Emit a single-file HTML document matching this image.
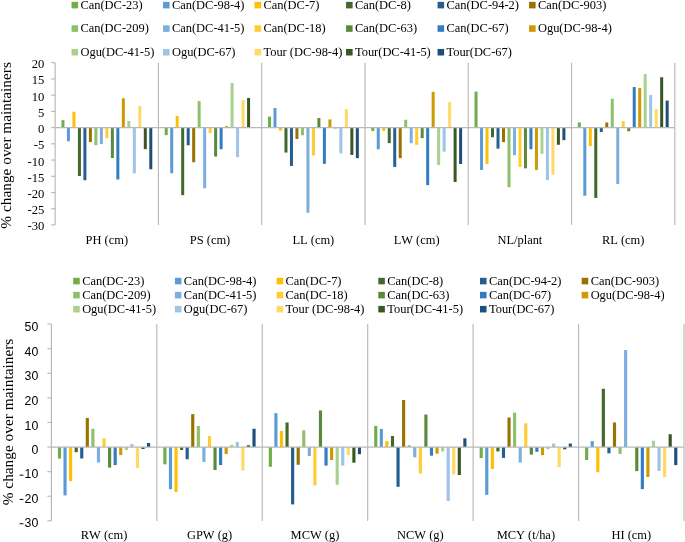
<!DOCTYPE html>
<html><head><meta charset="utf-8"><title>chart</title>
<style>
html,body{margin:0;padding:0;background:#fff;}
svg{display:block;will-change:transform;opacity:0.999}
text{fill:#000}
.s{font-family:"Liberation Serif",serif;font-size:12.45px}
.c{font-family:"Liberation Serif",serif;font-size:12.45px;font-kerning:none}
</style></head><body>
<svg width="685" height="542" viewBox="0 0 685 542">
<rect width="685" height="542" fill="#fff"/>
<rect x="71.55" y="1.85" width="6.55" height="6.55" fill="#70AD47"/>
<text x="80.45" y="8.6" class="s">Can(DC-23)</text>
<rect x="163.05" y="1.85" width="6.55" height="6.55" fill="#5B9BD5"/>
<text x="171.95" y="8.6" class="s">Can(DC-98-4)</text>
<rect x="254.55" y="1.85" width="6.55" height="6.55" fill="#FFC000"/>
<text x="263.45" y="8.6" class="s">Can(DC-7)</text>
<rect x="346.05" y="1.85" width="6.55" height="6.55" fill="#43682B"/>
<text x="354.95" y="8.6" class="s">Can(DC-8)</text>
<rect x="437.55" y="1.85" width="6.55" height="6.55" fill="#255E91"/>
<text x="446.45" y="8.6" class="s">Can(DC-94-2)</text>
<rect x="529.05" y="1.85" width="6.55" height="6.55" fill="#997300"/>
<text x="537.95" y="8.6" class="s">Can(DC-903)</text>
<rect x="71.55" y="25.3" width="6.55" height="6.55" fill="#8CC168"/>
<text x="80.45" y="32.05" class="s">Can(DC-209)</text>
<rect x="163.05" y="25.3" width="6.55" height="6.55" fill="#7CAFDD"/>
<text x="171.95" y="32.05" class="s">Can(DC-41-5)</text>
<rect x="254.55" y="25.3" width="6.55" height="6.55" fill="#FFCD33"/>
<text x="263.45" y="32.05" class="s">Can(DC-18)</text>
<rect x="346.05" y="25.3" width="6.55" height="6.55" fill="#5A8A39"/>
<text x="354.95" y="32.05" class="s">Can(DC-63)</text>
<rect x="437.55" y="25.3" width="6.55" height="6.55" fill="#327DC2"/>
<text x="446.45" y="32.05" class="s">Can(DC-67)</text>
<rect x="529.05" y="25.3" width="6.55" height="6.55" fill="#CC9A00"/>
<text x="537.95" y="32.05" class="s">Ogu(DC-98-4)</text>
<rect x="71.55" y="48.95" width="6.55" height="6.55" fill="#A9D18E"/>
<text x="80.45" y="55.7" class="s">Ogu(DC-41-5)</text>
<rect x="163.05" y="48.95" width="6.55" height="6.55" fill="#9DC3E6"/>
<text x="171.95" y="55.7" class="s">Ogu(DC-67)</text>
<rect x="254.55" y="48.95" width="6.55" height="6.55" fill="#FFD966"/>
<text x="263.45" y="55.7" class="s">Tour (DC-98-4)</text>
<rect x="346.05" y="48.95" width="6.55" height="6.55" fill="#385723"/>
<text x="354.95" y="55.7" class="s">Tour(DC-41-5)</text>
<rect x="437.55" y="48.95" width="6.55" height="6.55" fill="#1F4E79"/>
<text x="446.45" y="55.7" class="s">Tour(DC-67)</text>
<line x1="51.15" y1="62.7" x2="55.15" y2="62.7" stroke="#B8B8B8" stroke-width="1.15"/>
<text x="44.3" y="68.2" text-anchor="end" style="font-family:'Liberation Serif',serif;font-size:12.65px">20</text>
<line x1="51.15" y1="78.92" x2="55.15" y2="78.92" stroke="#B8B8B8" stroke-width="1.15"/>
<text x="44.3" y="84.42" text-anchor="end" style="font-family:'Liberation Serif',serif;font-size:12.65px">15</text>
<line x1="51.15" y1="95.15" x2="55.15" y2="95.15" stroke="#B8B8B8" stroke-width="1.15"/>
<text x="44.3" y="100.65" text-anchor="end" style="font-family:'Liberation Serif',serif;font-size:12.65px">10</text>
<line x1="51.15" y1="111.38" x2="55.15" y2="111.38" stroke="#B8B8B8" stroke-width="1.15"/>
<text x="44.3" y="116.88" text-anchor="end" style="font-family:'Liberation Serif',serif;font-size:12.65px">5</text>
<line x1="51.15" y1="127.6" x2="55.15" y2="127.6" stroke="#B8B8B8" stroke-width="1.15"/>
<text x="44.3" y="133.1" text-anchor="end" style="font-family:'Liberation Serif',serif;font-size:12.65px">0</text>
<line x1="51.15" y1="143.82" x2="55.15" y2="143.82" stroke="#B8B8B8" stroke-width="1.15"/>
<text x="44.3" y="149.32" text-anchor="end" style="font-family:'Liberation Serif',serif;font-size:12.65px">-5</text>
<line x1="51.15" y1="160.05" x2="55.15" y2="160.05" stroke="#B8B8B8" stroke-width="1.15"/>
<text x="44.3" y="165.55" text-anchor="end" style="font-family:'Liberation Serif',serif;font-size:12.65px">-10</text>
<line x1="51.15" y1="176.28" x2="55.15" y2="176.28" stroke="#B8B8B8" stroke-width="1.15"/>
<text x="44.3" y="181.78" text-anchor="end" style="font-family:'Liberation Serif',serif;font-size:12.65px">-15</text>
<line x1="51.15" y1="192.5" x2="55.15" y2="192.5" stroke="#B8B8B8" stroke-width="1.15"/>
<text x="44.3" y="198" text-anchor="end" style="font-family:'Liberation Serif',serif;font-size:12.65px">-20</text>
<line x1="51.15" y1="208.72" x2="55.15" y2="208.72" stroke="#B8B8B8" stroke-width="1.15"/>
<text x="44.3" y="214.22" text-anchor="end" style="font-family:'Liberation Serif',serif;font-size:12.65px">-25</text>
<line x1="51.15" y1="224.95" x2="55.15" y2="224.95" stroke="#B8B8B8" stroke-width="1.15"/>
<text x="44.3" y="230.45" text-anchor="end" style="font-family:'Liberation Serif',serif;font-size:12.65px">-30</text>
<rect x="61.45" y="120.15" width="3" height="7.45" fill="#70AD47"/>
<rect x="66.94" y="127.6" width="3" height="13.65" fill="#5B9BD5"/>
<rect x="72.43" y="111.75" width="3" height="15.85" fill="#FFC000"/>
<rect x="77.92" y="127.6" width="3" height="48.35" fill="#43682B"/>
<rect x="83.41" y="127.6" width="3" height="52.65" fill="#255E91"/>
<rect x="88.9" y="127.6" width="3" height="14.45" fill="#997300"/>
<rect x="94.39" y="127.6" width="3" height="17.55" fill="#8CC168"/>
<rect x="99.88" y="127.6" width="3" height="16.45" fill="#7CAFDD"/>
<rect x="105.37" y="127.6" width="3" height="10.65" fill="#FFCD33"/>
<rect x="110.86" y="127.6" width="3" height="30.45" fill="#5A8A39"/>
<rect x="116.35" y="127.6" width="3" height="51.85" fill="#327DC2"/>
<rect x="121.84" y="98.25" width="3" height="29.35" fill="#CC9A00"/>
<rect x="127.33" y="120.95" width="3" height="6.65" fill="#A9D18E"/>
<rect x="132.82" y="127.6" width="3" height="45.75" fill="#9DC3E6"/>
<rect x="138.31" y="105.95" width="3" height="21.65" fill="#FFD966"/>
<rect x="143.8" y="127.6" width="3" height="21.55" fill="#385723"/>
<rect x="149.29" y="127.6" width="3" height="41.65" fill="#1F4E79"/>
<text x="106.79" y="243.8" text-anchor="middle" class="c">PH (cm)</text>
<rect x="164.72" y="127.6" width="3" height="7.55" fill="#70AD47"/>
<rect x="170.22" y="127.6" width="3" height="45.65" fill="#5B9BD5"/>
<rect x="175.7" y="115.95" width="3" height="11.65" fill="#FFC000"/>
<rect x="181.19" y="127.6" width="3" height="67.55" fill="#43682B"/>
<rect x="186.69" y="127.6" width="3" height="17.65" fill="#255E91"/>
<rect x="192.18" y="127.6" width="3" height="34.65" fill="#997300"/>
<rect x="197.66" y="101.15" width="3" height="26.45" fill="#8CC168"/>
<rect x="203.16" y="127.6" width="3" height="60.65" fill="#7CAFDD"/>
<rect x="208.64" y="127.6" width="3" height="5.55" fill="#FFCD33"/>
<rect x="214.13" y="127.6" width="3" height="28.95" fill="#5A8A39"/>
<rect x="219.62" y="127.6" width="3" height="21.65" fill="#327DC2"/>
<rect x="225.12" y="126.05" width="3" height="1.55" fill="#CC9A00"/>
<rect x="230.6" y="82.95" width="3" height="44.65" fill="#A9D18E"/>
<rect x="236.09" y="127.6" width="3" height="29.55" fill="#9DC3E6"/>
<rect x="241.58" y="100.15" width="3" height="27.45" fill="#FFD966"/>
<rect x="247.07" y="97.95" width="3" height="29.65" fill="#385723"/>
<text x="210.06" y="243.8" text-anchor="middle" class="c">PS (cm)</text>
<rect x="268" y="116.65" width="3" height="10.95" fill="#70AD47"/>
<rect x="273.49" y="108.05" width="3" height="19.55" fill="#5B9BD5"/>
<rect x="278.98" y="127.6" width="3" height="2.95" fill="#FFC000"/>
<rect x="284.47" y="127.6" width="3" height="24.95" fill="#43682B"/>
<rect x="289.96" y="127.6" width="3" height="38.35" fill="#255E91"/>
<rect x="295.45" y="127.6" width="3" height="11.35" fill="#997300"/>
<rect x="300.94" y="127.6" width="3" height="7.65" fill="#8CC168"/>
<rect x="306.43" y="127.6" width="3" height="85.15" fill="#7CAFDD"/>
<rect x="311.92" y="127.6" width="3" height="27.95" fill="#FFCD33"/>
<rect x="317.41" y="118.05" width="3" height="9.55" fill="#5A8A39"/>
<rect x="322.9" y="127.6" width="3" height="36.25" fill="#327DC2"/>
<rect x="328.39" y="119.45" width="3" height="8.15" fill="#CC9A00"/>
<rect x="333.88" y="127.6" width="3" height="1.35" fill="#A9D18E"/>
<rect x="339.37" y="127.6" width="3" height="25.75" fill="#9DC3E6"/>
<rect x="344.86" y="109.05" width="3" height="18.55" fill="#FFD966"/>
<rect x="350.35" y="127.6" width="3" height="27.35" fill="#385723"/>
<rect x="355.84" y="127.6" width="3" height="30.55" fill="#1F4E79"/>
<text x="313.34" y="243.8" text-anchor="middle" class="c">LL (cm)</text>
<rect x="371.27" y="127.6" width="3" height="3.35" fill="#70AD47"/>
<rect x="376.76" y="127.6" width="3" height="21.65" fill="#5B9BD5"/>
<rect x="382.25" y="127.6" width="3" height="3.35" fill="#FFC000"/>
<rect x="387.75" y="127.6" width="3" height="15.55" fill="#43682B"/>
<rect x="393.23" y="127.6" width="3" height="39.35" fill="#255E91"/>
<rect x="398.72" y="127.6" width="3" height="30.55" fill="#997300"/>
<rect x="404.21" y="119.75" width="3" height="7.85" fill="#8CC168"/>
<rect x="409.7" y="127.6" width="3" height="15.55" fill="#7CAFDD"/>
<rect x="415.19" y="127.6" width="3" height="17.35" fill="#FFCD33"/>
<rect x="420.69" y="127.6" width="3" height="10.55" fill="#5A8A39"/>
<rect x="426.17" y="127.6" width="3" height="57.55" fill="#327DC2"/>
<rect x="431.66" y="91.85" width="3" height="35.75" fill="#CC9A00"/>
<rect x="437.15" y="127.6" width="3" height="37.45" fill="#A9D18E"/>
<rect x="442.64" y="127.6" width="3" height="24.05" fill="#9DC3E6"/>
<rect x="448.13" y="102.15" width="3" height="25.45" fill="#FFD966"/>
<rect x="453.62" y="127.6" width="3" height="54.35" fill="#385723"/>
<rect x="459.12" y="127.6" width="3" height="36.45" fill="#1F4E79"/>
<text x="416.61" y="243.8" text-anchor="middle" class="c">LW (cm)</text>
<rect x="474.55" y="91.65" width="3" height="35.95" fill="#70AD47"/>
<rect x="480.04" y="127.6" width="3" height="42.35" fill="#5B9BD5"/>
<rect x="485.53" y="127.6" width="3" height="36.25" fill="#FFC000"/>
<rect x="491.02" y="127.6" width="3" height="9.65" fill="#43682B"/>
<rect x="496.51" y="127.6" width="3" height="21.05" fill="#255E91"/>
<rect x="502" y="127.6" width="3" height="14.55" fill="#997300"/>
<rect x="507.49" y="127.6" width="3" height="59.65" fill="#8CC168"/>
<rect x="512.98" y="127.6" width="3" height="27.55" fill="#7CAFDD"/>
<rect x="518.47" y="127.6" width="3" height="39.35" fill="#FFCD33"/>
<rect x="523.96" y="127.6" width="3" height="40.75" fill="#5A8A39"/>
<rect x="529.45" y="127.6" width="3" height="21.65" fill="#327DC2"/>
<rect x="534.94" y="127.6" width="3" height="42.35" fill="#CC9A00"/>
<rect x="540.43" y="127.6" width="3" height="26.15" fill="#A9D18E"/>
<rect x="545.92" y="127.6" width="3" height="52.55" fill="#9DC3E6"/>
<rect x="551.41" y="127.6" width="3" height="47.05" fill="#FFD966"/>
<rect x="556.9" y="127.6" width="3" height="17.15" fill="#385723"/>
<rect x="562.39" y="127.6" width="3" height="12.55" fill="#1F4E79"/>
<text x="519.89" y="243.8" text-anchor="middle" class="c">NL/plant</text>
<rect x="577.82" y="122.5" width="3" height="5.1" fill="#70AD47"/>
<rect x="583.31" y="127.6" width="3" height="68.15" fill="#5B9BD5"/>
<rect x="588.8" y="127.6" width="3" height="18.45" fill="#FFC000"/>
<rect x="594.29" y="127.6" width="3" height="70.35" fill="#43682B"/>
<rect x="599.78" y="127.6" width="3" height="4.45" fill="#255E91"/>
<rect x="605.27" y="122.5" width="3" height="5.1" fill="#997300"/>
<rect x="610.76" y="98.75" width="3" height="28.85" fill="#8CC168"/>
<rect x="616.25" y="127.6" width="3" height="56.35" fill="#7CAFDD"/>
<rect x="621.74" y="121.25" width="3" height="6.35" fill="#FFCD33"/>
<rect x="627.23" y="127.6" width="3" height="3.65" fill="#5A8A39"/>
<rect x="632.72" y="87.05" width="3" height="40.55" fill="#327DC2"/>
<rect x="638.21" y="88.05" width="3" height="39.55" fill="#CC9A00"/>
<rect x="643.7" y="74.05" width="3" height="53.55" fill="#A9D18E"/>
<rect x="649.19" y="95.05" width="3" height="32.55" fill="#9DC3E6"/>
<rect x="654.68" y="109.05" width="3" height="18.55" fill="#FFD966"/>
<rect x="660.17" y="77.25" width="3" height="50.35" fill="#385723"/>
<rect x="665.66" y="100.55" width="3" height="27.05" fill="#1F4E79"/>
<text x="623.16" y="243.8" text-anchor="middle" class="c">RL (cm)</text>
<line x1="55.15" y1="62.8" x2="55.15" y2="224.9" stroke="#B8B8B8" stroke-width="1.15"/>
<line x1="158.42" y1="62.8" x2="158.42" y2="224.9" stroke="#B8B8B8" stroke-width="1.15"/>
<line x1="261.7" y1="62.8" x2="261.7" y2="224.9" stroke="#B8B8B8" stroke-width="1.15"/>
<line x1="364.97" y1="62.8" x2="364.97" y2="224.9" stroke="#B8B8B8" stroke-width="1.15"/>
<line x1="468.25" y1="62.8" x2="468.25" y2="224.9" stroke="#B8B8B8" stroke-width="1.15"/>
<line x1="571.52" y1="62.8" x2="571.52" y2="224.9" stroke="#B8B8B8" stroke-width="1.15"/>
<line x1="674.8" y1="62.8" x2="674.8" y2="224.9" stroke="#B8B8B8" stroke-width="1.15"/>
<line x1="55.15" y1="127.6" x2="674.8" y2="127.6" stroke="#B8B8B8" stroke-width="1.15"/>
<text transform="translate(10.6,145.35) rotate(-90)" text-anchor="middle" style="font-family:'Liberation Serif',serif;font-size:15.35px">% change over maintainers</text>
<rect x="73.2" y="277.8" width="6.55" height="6.55" fill="#70AD47"/>
<text x="82.15" y="284.55" class="s">Can(DC-23)</text>
<rect x="174.9" y="277.8" width="6.55" height="6.55" fill="#5B9BD5"/>
<text x="183.85" y="284.55" class="s">Can(DC-98-4)</text>
<rect x="276.6" y="277.8" width="6.55" height="6.55" fill="#FFC000"/>
<text x="285.55" y="284.55" class="s">Can(DC-7)</text>
<rect x="378.3" y="277.8" width="6.55" height="6.55" fill="#43682B"/>
<text x="387.25" y="284.55" class="s">Can(DC-8)</text>
<rect x="480" y="277.8" width="6.55" height="6.55" fill="#255E91"/>
<text x="488.95" y="284.55" class="s">Can(DC-94-2)</text>
<rect x="581.7" y="277.8" width="6.55" height="6.55" fill="#997300"/>
<text x="590.65" y="284.55" class="s">Can(DC-903)</text>
<rect x="73.2" y="291.85" width="6.55" height="6.55" fill="#8CC168"/>
<text x="82.15" y="298.6" class="s">Can(DC-209)</text>
<rect x="174.9" y="291.85" width="6.55" height="6.55" fill="#7CAFDD"/>
<text x="183.85" y="298.6" class="s">Can(DC-41-5)</text>
<rect x="276.6" y="291.85" width="6.55" height="6.55" fill="#FFCD33"/>
<text x="285.55" y="298.6" class="s">Can(DC-18)</text>
<rect x="378.3" y="291.85" width="6.55" height="6.55" fill="#5A8A39"/>
<text x="387.25" y="298.6" class="s">Can(DC-63)</text>
<rect x="480" y="291.85" width="6.55" height="6.55" fill="#327DC2"/>
<text x="488.95" y="298.6" class="s">Can(DC-67)</text>
<rect x="581.7" y="291.85" width="6.55" height="6.55" fill="#CC9A00"/>
<text x="590.65" y="298.6" class="s">Ogu(DC-98-4)</text>
<rect x="73.2" y="305.9" width="6.55" height="6.55" fill="#A9D18E"/>
<text x="82.15" y="312.65" class="s">Ogu(DC-41-5)</text>
<rect x="174.9" y="305.9" width="6.55" height="6.55" fill="#9DC3E6"/>
<text x="183.85" y="312.65" class="s">Ogu(DC-67)</text>
<rect x="276.6" y="305.9" width="6.55" height="6.55" fill="#FFD966"/>
<text x="285.55" y="312.65" class="s">Tour (DC-98-4)</text>
<rect x="378.3" y="305.9" width="6.55" height="6.55" fill="#385723"/>
<text x="387.25" y="312.65" class="s">Tour(DC-41-5)</text>
<rect x="480" y="305.9" width="6.55" height="6.55" fill="#1F4E79"/>
<text x="488.95" y="312.65" class="s">Tour(DC-67)</text>
<line x1="47.4" y1="324.05" x2="51.4" y2="324.05" stroke="#B8B8B8" stroke-width="1.15"/>
<text x="38.3" y="331.1" text-anchor="end" style="font-family:'Liberation Sans',sans-serif;font-size:12.3px">50</text>
<line x1="47.4" y1="348.65" x2="51.4" y2="348.65" stroke="#B8B8B8" stroke-width="1.15"/>
<text x="38.3" y="355.7" text-anchor="end" style="font-family:'Liberation Sans',sans-serif;font-size:12.3px">40</text>
<line x1="47.4" y1="373.25" x2="51.4" y2="373.25" stroke="#B8B8B8" stroke-width="1.15"/>
<text x="38.3" y="380.3" text-anchor="end" style="font-family:'Liberation Sans',sans-serif;font-size:12.3px">30</text>
<line x1="47.4" y1="397.85" x2="51.4" y2="397.85" stroke="#B8B8B8" stroke-width="1.15"/>
<text x="38.3" y="404.9" text-anchor="end" style="font-family:'Liberation Sans',sans-serif;font-size:12.3px">20</text>
<line x1="47.4" y1="422.45" x2="51.4" y2="422.45" stroke="#B8B8B8" stroke-width="1.15"/>
<text x="38.3" y="429.5" text-anchor="end" style="font-family:'Liberation Sans',sans-serif;font-size:12.3px">10</text>
<line x1="47.4" y1="447.05" x2="51.4" y2="447.05" stroke="#B8B8B8" stroke-width="1.15"/>
<text x="38.3" y="454.1" text-anchor="end" style="font-family:'Liberation Sans',sans-serif;font-size:12.3px">0</text>
<line x1="47.4" y1="471.65" x2="51.4" y2="471.65" stroke="#B8B8B8" stroke-width="1.15"/>
<text x="38.3" y="478.37" text-anchor="end" style="font-family:'Liberation Sans',sans-serif;font-size:12.3px">10</text>
<rect x="19.62" y="474.62" width="3.7" height="1.1" fill="#1a1a1a"/>
<line x1="47.4" y1="496.25" x2="51.4" y2="496.25" stroke="#B8B8B8" stroke-width="1.15"/>
<text x="38.3" y="502.64" text-anchor="end" style="font-family:'Liberation Sans',sans-serif;font-size:12.3px">20</text>
<rect x="19.62" y="498.89" width="3.7" height="1.1" fill="#1a1a1a"/>
<line x1="47.4" y1="520.85" x2="51.4" y2="520.85" stroke="#B8B8B8" stroke-width="1.15"/>
<text x="38.3" y="526.91" text-anchor="end" style="font-family:'Liberation Sans',sans-serif;font-size:12.3px">30</text>
<rect x="19.62" y="523.16" width="3.7" height="1.1" fill="#1a1a1a"/>
<rect x="57.9" y="447.05" width="3.15" height="11.55" fill="#70AD47"/>
<rect x="63.47" y="447.05" width="3.15" height="48.35" fill="#5B9BD5"/>
<rect x="69.04" y="447.05" width="3.15" height="34.15" fill="#FFC000"/>
<rect x="74.61" y="447.05" width="3.15" height="5.15" fill="#43682B"/>
<rect x="80.18" y="447.05" width="3.15" height="11.45" fill="#255E91"/>
<rect x="85.75" y="417.85" width="3.15" height="29.2" fill="#997300"/>
<rect x="91.32" y="428.75" width="3.15" height="18.3" fill="#8CC168"/>
<rect x="96.89" y="447.05" width="3.15" height="15.45" fill="#7CAFDD"/>
<rect x="102.46" y="438.35" width="3.15" height="8.7" fill="#FFCD33"/>
<rect x="108.03" y="447.05" width="3.15" height="20.55" fill="#5A8A39"/>
<rect x="113.6" y="447.05" width="3.15" height="18.05" fill="#327DC2"/>
<rect x="119.17" y="447.05" width="3.15" height="8.05" fill="#CC9A00"/>
<rect x="124.74" y="447.05" width="3.15" height="3.05" fill="#A9D18E"/>
<rect x="130.31" y="444.05" width="3.15" height="3" fill="#9DC3E6"/>
<rect x="135.88" y="447.05" width="3.15" height="21.05" fill="#FFD966"/>
<rect x="141.45" y="447.05" width="3.15" height="1.95" fill="#385723"/>
<rect x="147.02" y="443.05" width="3.15" height="4" fill="#1F4E79"/>
<text x="104.12" y="539" text-anchor="middle" class="c">RW (cm)</text>
<rect x="163.33" y="447.05" width="3.15" height="17.25" fill="#70AD47"/>
<rect x="168.9" y="447.05" width="3.15" height="42.15" fill="#5B9BD5"/>
<rect x="174.47" y="447.05" width="3.15" height="44.85" fill="#FFC000"/>
<rect x="180.04" y="447.05" width="3.15" height="2.95" fill="#43682B"/>
<rect x="185.61" y="447.05" width="3.15" height="12.25" fill="#255E91"/>
<rect x="191.18" y="414.15" width="3.15" height="32.9" fill="#997300"/>
<rect x="196.75" y="426.05" width="3.15" height="21" fill="#8CC168"/>
<rect x="202.32" y="447.05" width="3.15" height="14.85" fill="#7CAFDD"/>
<rect x="207.89" y="436.15" width="3.15" height="10.9" fill="#FFCD33"/>
<rect x="213.46" y="447.05" width="3.15" height="22.95" fill="#5A8A39"/>
<rect x="219.03" y="447.05" width="3.15" height="18.05" fill="#327DC2"/>
<rect x="224.6" y="447.05" width="3.15" height="7.05" fill="#CC9A00"/>
<rect x="230.17" y="444.85" width="3.15" height="2.2" fill="#A9D18E"/>
<rect x="235.74" y="441.95" width="3.15" height="5.1" fill="#9DC3E6"/>
<rect x="241.31" y="447.05" width="3.15" height="23.45" fill="#FFD966"/>
<rect x="246.88" y="445.25" width="3.15" height="1.8" fill="#385723"/>
<rect x="252.45" y="428.75" width="3.15" height="18.3" fill="#1F4E79"/>
<text x="209.55" y="539" text-anchor="middle" class="c">GPW (g)</text>
<rect x="268.77" y="447.05" width="3.15" height="19.75" fill="#70AD47"/>
<rect x="274.34" y="413.15" width="3.15" height="33.9" fill="#5B9BD5"/>
<rect x="279.91" y="430.95" width="3.15" height="16.1" fill="#FFC000"/>
<rect x="285.48" y="422.45" width="3.15" height="24.6" fill="#43682B"/>
<rect x="291.05" y="447.05" width="3.15" height="57.35" fill="#255E91"/>
<rect x="296.62" y="447.05" width="3.15" height="17.75" fill="#997300"/>
<rect x="302.19" y="430.35" width="3.15" height="16.7" fill="#8CC168"/>
<rect x="307.76" y="447.05" width="3.15" height="9.05" fill="#7CAFDD"/>
<rect x="313.33" y="447.05" width="3.15" height="38.35" fill="#FFCD33"/>
<rect x="318.9" y="410.45" width="3.15" height="36.6" fill="#5A8A39"/>
<rect x="324.47" y="447.05" width="3.15" height="18.55" fill="#327DC2"/>
<rect x="330.04" y="447.05" width="3.15" height="12.95" fill="#CC9A00"/>
<rect x="335.61" y="447.05" width="3.15" height="37.75" fill="#A9D18E"/>
<rect x="341.18" y="447.05" width="3.15" height="18.55" fill="#9DC3E6"/>
<rect x="346.75" y="447.05" width="3.15" height="8.05" fill="#FFD966"/>
<rect x="352.32" y="447.05" width="3.15" height="15.65" fill="#385723"/>
<rect x="357.89" y="447.05" width="3.15" height="7.15" fill="#1F4E79"/>
<text x="314.98" y="539" text-anchor="middle" class="c">MCW (g)</text>
<rect x="374.2" y="425.95" width="3.15" height="21.1" fill="#70AD47"/>
<rect x="379.77" y="428.95" width="3.15" height="18.1" fill="#5B9BD5"/>
<rect x="385.34" y="441.15" width="3.15" height="5.9" fill="#FFC000"/>
<rect x="390.91" y="436.05" width="3.15" height="11" fill="#43682B"/>
<rect x="396.48" y="447.05" width="3.15" height="39.75" fill="#255E91"/>
<rect x="402.05" y="399.95" width="3.15" height="47.1" fill="#997300"/>
<rect x="407.62" y="445.25" width="3.15" height="1.8" fill="#8CC168"/>
<rect x="413.19" y="447.05" width="3.15" height="10.25" fill="#7CAFDD"/>
<rect x="418.76" y="447.05" width="3.15" height="26.55" fill="#FFCD33"/>
<rect x="424.33" y="414.55" width="3.15" height="32.5" fill="#5A8A39"/>
<rect x="429.9" y="447.05" width="3.15" height="8.65" fill="#327DC2"/>
<rect x="435.47" y="447.05" width="3.15" height="6.65" fill="#CC9A00"/>
<rect x="441.04" y="447.05" width="3.15" height="4.45" fill="#A9D18E"/>
<rect x="446.61" y="447.05" width="3.15" height="53.95" fill="#9DC3E6"/>
<rect x="452.18" y="447.05" width="3.15" height="27.35" fill="#FFD966"/>
<rect x="457.75" y="447.05" width="3.15" height="27.95" fill="#385723"/>
<rect x="463.32" y="438.35" width="3.15" height="8.7" fill="#1F4E79"/>
<text x="420.42" y="539" text-anchor="middle" class="c">NCW (g)</text>
<rect x="479.63" y="447.05" width="3.15" height="11.05" fill="#70AD47"/>
<rect x="485.2" y="447.05" width="3.15" height="47.85" fill="#5B9BD5"/>
<rect x="490.77" y="447.05" width="3.15" height="22.05" fill="#FFC000"/>
<rect x="496.34" y="447.05" width="3.15" height="4.35" fill="#43682B"/>
<rect x="501.91" y="447.05" width="3.15" height="10.85" fill="#255E91"/>
<rect x="507.48" y="417.45" width="3.15" height="29.6" fill="#997300"/>
<rect x="513.05" y="412.65" width="3.15" height="34.4" fill="#8CC168"/>
<rect x="518.62" y="447.05" width="3.15" height="15.45" fill="#7CAFDD"/>
<rect x="524.19" y="423.35" width="3.15" height="23.7" fill="#FFCD33"/>
<rect x="529.76" y="447.05" width="3.15" height="7.55" fill="#5A8A39"/>
<rect x="535.33" y="447.05" width="3.15" height="4.75" fill="#327DC2"/>
<rect x="540.9" y="447.05" width="3.15" height="8.05" fill="#CC9A00"/>
<rect x="546.47" y="447.05" width="3.15" height="2.15" fill="#A9D18E"/>
<rect x="552.04" y="443.55" width="3.15" height="3.5" fill="#9DC3E6"/>
<rect x="557.61" y="447.05" width="3.15" height="19.95" fill="#FFD966"/>
<rect x="563.18" y="447.05" width="3.15" height="2.25" fill="#385723"/>
<rect x="568.75" y="443.55" width="3.15" height="3.5" fill="#1F4E79"/>
<text x="525.85" y="539" text-anchor="middle" class="c">MCY (t/ha)</text>
<rect x="585.07" y="447.05" width="3.15" height="12.95" fill="#70AD47"/>
<rect x="590.64" y="441.15" width="3.15" height="5.9" fill="#5B9BD5"/>
<rect x="596.21" y="447.05" width="3.15" height="25.15" fill="#FFC000"/>
<rect x="601.78" y="388.75" width="3.15" height="58.3" fill="#43682B"/>
<rect x="607.35" y="447.05" width="3.15" height="6.25" fill="#255E91"/>
<rect x="612.92" y="422.45" width="3.15" height="24.6" fill="#997300"/>
<rect x="618.49" y="447.05" width="3.15" height="6.85" fill="#8CC168"/>
<rect x="624.06" y="350.05" width="3.15" height="97" fill="#7CAFDD"/>
<rect x="635.2" y="447.05" width="3.15" height="24.05" fill="#5A8A39"/>
<rect x="640.77" y="447.05" width="3.15" height="42.05" fill="#327DC2"/>
<rect x="646.34" y="447.05" width="3.15" height="29.95" fill="#CC9A00"/>
<rect x="651.91" y="440.75" width="3.15" height="6.3" fill="#A9D18E"/>
<rect x="657.48" y="447.05" width="3.15" height="23.95" fill="#9DC3E6"/>
<rect x="663.05" y="447.05" width="3.15" height="29.95" fill="#FFD966"/>
<rect x="668.62" y="434.25" width="3.15" height="12.8" fill="#385723"/>
<rect x="674.19" y="447.05" width="3.15" height="18.05" fill="#1F4E79"/>
<text x="631.28" y="539" text-anchor="middle" class="c">HI (cm)</text>
<line x1="51.4" y1="324" x2="51.4" y2="520.9" stroke="#B8B8B8" stroke-width="1.15"/>
<line x1="156.83" y1="324" x2="156.83" y2="520.9" stroke="#B8B8B8" stroke-width="1.15"/>
<line x1="262.27" y1="324" x2="262.27" y2="520.9" stroke="#B8B8B8" stroke-width="1.15"/>
<line x1="367.7" y1="324" x2="367.7" y2="520.9" stroke="#B8B8B8" stroke-width="1.15"/>
<line x1="473.13" y1="324" x2="473.13" y2="520.9" stroke="#B8B8B8" stroke-width="1.15"/>
<line x1="578.57" y1="324" x2="578.57" y2="520.9" stroke="#B8B8B8" stroke-width="1.15"/>
<line x1="684" y1="324" x2="684" y2="520.9" stroke="#B8B8B8" stroke-width="1.15"/>
<line x1="51.4" y1="447.05" x2="684" y2="447.05" stroke="#B8B8B8" stroke-width="1.15"/>
<text transform="translate(12.7,422) rotate(-90)" text-anchor="middle" style="font-family:'Liberation Serif',serif;font-size:15.35px">% change over maintainers</text>
</svg>
</body></html>
